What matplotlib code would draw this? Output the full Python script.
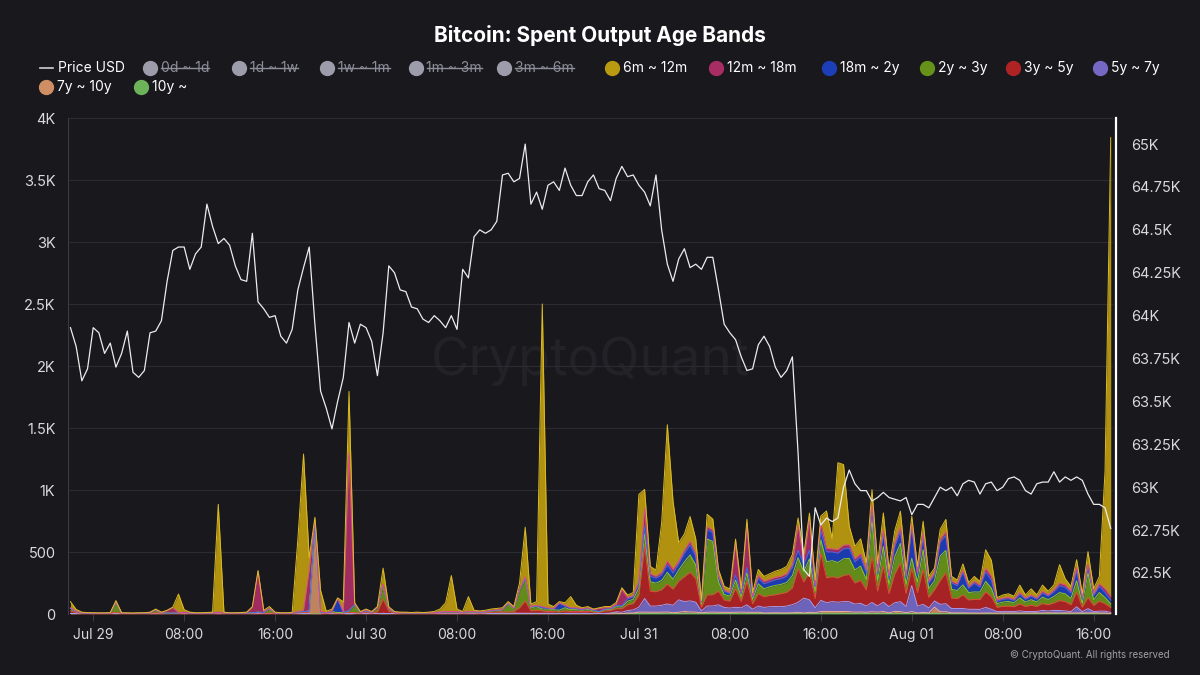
"""
Bitcoin: Spent Output Age Bands - dark CryptoQuant style chart
"""

import matplotlib
matplotlib.use('Agg')
import matplotlib.pyplot as plt
from matplotlib.lines import Line2D
import numpy as np
import pandas as pd

plt.rcParams['font.family'] = ['Inter', 'DejaVu Sans']

# 30-minute samples, Jul 28 22:00 -> Aug 01 17:30
times = pd.date_range('2024-07-28 22:00', periods=184, freq='30min')

# Price USD (in thousands)
price_usd_k = [
    63.93, 63.82, 63.62, 63.69, 63.93, 63.90, 63.78, 63.84, 63.70, 63.78,
    63.91, 63.67, 63.64, 63.68, 63.90, 63.91, 63.97, 64.20, 64.38, 64.40,
    64.40, 64.27, 64.36, 64.40, 64.65, 64.52, 64.42, 64.45, 64.41, 64.29,
    64.21, 64.20, 64.48, 64.08, 64.04, 63.99, 64.00, 63.88, 63.84, 63.92,
    64.15, 64.28, 64.40, 63.95, 63.56, 63.46, 63.34, 63.50, 63.64, 63.96,
    63.84, 63.95, 63.93, 63.85, 63.65, 63.90, 64.29, 64.25, 64.15, 64.14,
    64.05, 64.04, 63.98, 63.96, 64.00, 63.97, 63.93, 64.00, 63.92, 64.27,
    64.22, 64.46, 64.50, 64.48, 64.50, 64.55, 64.82, 64.83, 64.78, 64.80,
    65.00, 64.65, 64.72, 64.62, 64.76, 64.78, 64.73, 64.86, 64.76, 64.70,
    64.70, 64.78, 64.82, 64.74, 64.73, 64.67, 64.80, 64.87, 64.81, 64.82,
    64.76, 64.72, 64.64, 64.82, 64.50, 64.30, 64.20, 64.33, 64.39, 64.28,
    64.30, 64.27, 64.34, 64.34, 64.15, 63.95, 63.90, 63.86, 63.76, 63.68,
    63.69, 63.83, 63.88, 63.82, 63.70, 63.64, 63.68, 63.76, 63.20, 62.52,
    62.48, 62.88, 62.78, 62.82, 62.80, 62.82, 63.00, 63.10, 63.02, 62.98,
    62.98, 62.92, 62.94, 62.97, 62.94, 62.93, 62.92, 62.94, 62.84, 62.90,
    62.90, 62.88, 62.94, 63.00, 62.98, 63.00, 62.95, 63.02, 63.04, 63.03,
    62.96, 63.02, 63.03, 62.98, 63.00, 63.05, 63.06, 63.04, 62.98, 62.96,
    63.02, 63.03, 63.03, 63.09, 63.03, 63.06, 63.04, 63.06, 63.04, 62.96,
    62.90, 62.90, 62.88, 62.76,
]

band_6m_12m = [
    50, 15, 5, 3, 3, 2, 2, 3, 10, 3,
    2, 2, 3, 3, 4, 5, 4, 3, 3, 150,
    20, 5, 3, 3, 4, 5, 870, 5, 3, 3,
    4, 5, 5, 5, 10, 15, 5, 3, 3, 4,
    580, 1260, 100, 20, 170, 10, 15, 5, 80, 500,
    10, 5, 10, 5, 5, 130, 10, 5, 4, 4,
    3, 4, 3, 4, 6, 25, 70, 290, 20, 6,
    120, 10, 8, 10, 10, 12, 12, 10, 12, 50,
    400, 20, 30, 2440, 30, 15, 10, 20, 90, 20,
    10, 10, 5, 5, 10, 10, 15, 15, 20, 25,
    700, 150, 60, 50, 400, 1100, 550, 150, 130, 200,
    120, 10, 100, 90, 50, 30, 30, 40, 30, 40,
    25, 50, 40, 45, 50, 55, 60, 80, 60, 60,
    50, 40, 60, 300, 80, 700, 650, 150, 100, 120,
    60, 120, 60, 140, 50, 100, 130, 50, 60, 50,
    100, 40, 40, 80, 100, 40, 30, 50, 30, 40,
    30, 150, 130, 20, 25, 30, 25, 60, 25, 50,
    25, 50, 30, 40, 150, 50, 40, 60, 30, 100,
    40, 60, 950, 3700,
]

band_12m_18m = [
    5, 3, 2, 2, 1, 1, 1, 1, 3, 1,
    1, 1, 1, 1, 1, 2, 1, 20, 45, 2,
    2, 2, 1, 1, 1, 1, 2, 1, 1, 1,
    1, 2, 45, 330, 8, 3, 2, 1, 1, 1,
    5, 10, 330, 40, 5, 3, 5, 3, 5, 1270,
    5, 3, 5, 3, 3, 5, 3, 2, 2, 2,
    1, 2, 1, 2, 2, 2, 3, 3, 3, 2,
    3, 3, 3, 3, 3, 3, 3, 3, 3, 5,
    10, 5, 5, 10, 5, 5, 5, 5, 5, 5,
    5, 5, 5, 25, 10, 8, 10, 130, 10, 10,
    20, 150, 20, 15, 20, 30, 30, 20, 25, 30,
    20, 5, 20, 20, 15, 10, 10, 250, 10, 350,
    10, 20, 20, 20, 20, 20, 20, 25, 200, 25,
    250, 15, 60, 30, 25, 30, 30, 30, 25, 25,
    20, 30, 20, 30, 20, 30, 30, 20, 30, 20,
    30, 15, 15, 25, 30, 15, 15, 20, 15, 15,
    15, 30, 30, 10, 10, 10, 10, 15, 10, 10,
    10, 15, 10, 15, 20, 20, 15, 30, 15, 20,
    15, 20, 30, 30,
]

band_18m_2y = [
    0, 0, 0, 0, 0, 0, 0, 0, 0, 0,
    0, 0, 0, 0, 0, 0, 0, 0, 0, 0,
    0, 0, 0, 0, 0, 0, 0, 0, 0, 0,
    0, 0, 0, 0, 0, 0, 0, 0, 0, 0,
    0, 0, 0, 0, 0, 0, 0, 110, 0, 0,
    0, 0, 0, 0, 0, 5, 2, 0, 0, 0,
    0, 0, 0, 0, 0, 0, 0, 0, 0, 0,
    3, 2, 2, 2, 3, 3, 3, 3, 3, 5,
    5, 5, 5, 10, 5, 5, 55, 15, 10, 10,
    5, 8, 5, 3, 5, 5, 10, 10, 20, 20,
    35, 60, 45, 40, 45, 60, 50, 50, 70, 80,
    70, 15, 80, 70, 35, 25, 20, 40, 25, 40,
    20, 45, 40, 40, 45, 45, 50, 65, 60, 55,
    70, 35, 70, 80, 70, 75, 80, 80, 65, 75,
    55, 90, 55, 100, 50, 80, 100, 50, 250, 55,
    100, 45, 45, 110, 120, 50, 40, 100, 35, 70,
    40, 75, 65, 18, 22, 22, 18, 28, 22, 28,
    22, 32, 28, 38, 55, 52, 42, 80, 30, 50,
    35, 50, 40, 30,
]

band_2y_3y = [
    20, 8, 3, 2, 2, 2, 2, 3, 80, 2,
    2, 2, 2, 2, 4, 25, 4, 3, 3, 4,
    5, 3, 2, 2, 3, 4, 5, 4, 2, 2,
    3, 4, 4, 5, 6, 35, 4, 2, 2, 3,
    6, 8, 10, 10, 8, 4, 8, 5, 5, 10,
    65, 5, 10, 5, 35, 110, 20, 5, 4, 4,
    3, 4, 3, 4, 5, 5, 8, 8, 8, 5,
    6, 6, 5, 6, 10, 12, 14, 70, 22, 140,
    180, 25, 30, 15, 20, 15, 15, 25, 15, 15,
    10, 15, 10, 5, 10, 10, 15, 15, 30, 35,
    60, 100, 75, 70, 75, 95, 80, 90, 120, 140,
    110, 25, 450, 430, 75, 45, 40, 70, 40, 70,
    35, 80, 65, 70, 75, 75, 80, 100, 90, 85,
    110, 60, 110, 130, 130, 125, 135, 130, 105, 115,
    85, 300, 85, 160, 75, 140, 160, 75, 80, 85,
    160, 70, 75, 200, 180, 70, 65, 80, 60, 60,
    60, 85, 70, 30, 35, 38, 32, 50, 36, 45,
    36, 52, 42, 52, 65, 62, 52, 90, 35, 200,
    45, 70, 50, 30,
]

band_3y_5y = [
    20, 8, 3, 2, 2, 2, 2, 2, 12, 2,
    2, 1, 2, 2, 3, 5, 3, 2, 2, 3,
    5, 3, 2, 2, 2, 3, 5, 3, 2, 2,
    2, 2, 3, 8, 4, 5, 2, 2, 2, 2,
    6, 8, 10, 10, 5, 3, 8, 5, 5, 10,
    8, 5, 12, 5, 15, 115, 20, 5, 3, 3,
    3, 3, 3, 3, 5, 5, 6, 6, 6, 5,
    5, 6, 5, 6, 10, 10, 12, 10, 14, 45,
    100, 20, 25, 20, 15, 15, 12, 20, 15, 15,
    15, 17, 12, 10, 20, 20, 25, 28, 45, 50,
    95, 420, 120, 115, 125, 160, 130, 150, 200, 230,
    190, 30, 90, 90, 110, 60, 55, 150, 50, 190,
    45, 100, 85, 90, 95, 105, 110, 135, 270, 130,
    220, 75, 380, 200, 200, 195, 210, 220, 170, 185,
    130, 370, 120, 290, 105, 230, 310, 105, 140, 110,
    280, 85, 90, 190, 250, 85, 80, 110, 75, 80,
    80, 125, 100, 35, 40, 42, 38, 55, 40, 50,
    40, 55, 50, 60, 80, 75, 55, 120, 35, 90,
    50, 80, 60, 40,
]

band_5y_7y = [0] * 90 + [
    0, 0, 0, 0, 2, 2, 10, 12, 20, 25,
    40, 110, 50, 50, 55, 65, 60, 100, 80, 90,
    80, 15, 50, 50, 60, 40, 35, 40, 35, 60,
    25, 50, 45, 50, 50, 50, 55, 65, 80, 120,
    100, 40, 90, 70, 80, 75, 80, 80, 65, 70,
    50, 75, 50, 75, 50, 70, 80, 50, 210, 55,
    65, 40, 50, 60, 65, 35, 35, 35, 30, 30,
    30, 45, 30, 12, 13, 13, 12, 17, 12, 12,
    12, 21, 15, 20, 20, 16, 11, 50, 10, 35,
    10, 15, 15, 10,
]

band_7y_10y = [
    5, 3, 2, 2, 2, 2, 2, 2, 3, 2,
    2, 2, 2, 2, 3, 3, 3, 2, 2, 2,
    3, 2, 2, 2, 2, 2, 3, 2, 2, 2,
    2, 2, 3, 2, 2, 2, 2, 2, 2, 2,
    3, 4, 3, 700, 3, 2, 3, 2, 3, 5,
    2, 2, 3, 2, 2, 5, 3, 3, 2, 2,
    2, 2, 2, 2, 2, 3, 3, 3, 3, 2,
    3, 3, 2, 3, 4, 5, 6, 4, 6, 5,
    5, 5, 5, 5, 5, 5, 3, 5, 5, 5,
    5, 5, 3, 2, 3, 5, 5, 0, 5, 5,
    10, 10, 10, 10, 10, 10, 5, 10, 15, 10,
    10, 5, 10, 10, 10, 10, 10, 10, 10, 10,
    10, 10, 5, 5, 5, 5, 5, 5, 10, 5,
    10, 5, 15, 15, 15, 15, 15, 15, 10, 10,
    10, 15, 10, 15, 5, 15, 15, 5, 15, 5,
    10, 5, 50, 15, 15, 5, 5, 5, 5, 5,
    5, 5, 5, 5, 5, 5, 5, 5, 5, 5,
    5, 5, 5, 5, 5, 5, 5, 5, 5, 5,
    5, 5, 5, 0,
]

band_10y = [0] * 96 + [
    3, 2, 3, 3, 5, 5, 4, 4, 5, 6,
    5, 4, 5, 6, 5, 5, 4, 5, 4, 3,
    3, 4, 5, 4, 3, 4, 3, 4, 5, 4,
    4, 5, 4, 3, 4, 5, 5, 6, 5, 5,
    5, 4, 5, 6, 4, 3, 5, 5, 4, 6,
    4, 5, 4, 3, 3, 4, 5, 3, 3, 4,
    4, 4, 3, 3, 2, 3, 3, 2, 3, 3,
    3, 3, 3, 3, 4, 3, 4, 4, 3, 4,
    3, 3, 4, 3, 4, 3, 3, 2,
]

hidden_bands = ['0d ~ 1d', '1d ~ 1w', '1w ~ 1m', '1m ~ 3m', '3m ~ 6m']

# bottom -> top of the stack: (label, values, fill, edge line)
bands = [
    ('10y ~', band_10y, '#5f9e4f', '#7cc46a'),
    ('7y ~ 10y', band_7y_10y, '#c98a62', '#f0aa9a'),
    ('5y ~ 7y', band_5y_7y, '#7468c4', '#a59cf0'),
    ('3y ~ 5y', band_3y_5y, '#b02325', '#e8483a'),
    ('2y ~ 3y', band_2y_3y, '#67921a', '#8fc42a'),
    ('18m ~ 2y', band_18m_2y, '#1c3fb8', '#3d6af0'),
    ('12m ~ 18m', band_12m_18m, '#a82d64', '#e04a8c'),
    ('6m ~ 12m', band_6m_12m, '#b99a10', '#dcbc24'),
]

for name, vals, _, _ in bands:
    assert len(vals) == len(times), (name, len(vals))
assert len(price_usd_k) == len(times)

BG = '#18181d'
TXT = '#d9d9de'

fig = plt.figure(figsize=(12, 6.75), dpi=100, facecolor=BG)
ax = fig.add_axes([68 / 1200, 61 / 675, 1045 / 1200, 496 / 675])
ax.set_facecolor(BG)

# watermark
ax.text(0.5, 0.51, 'CryptoQuant', transform=ax.transAxes, fontsize=38,
        color='#222228', ha='center', va='center', zorder=0)

# stacked areas
stack = np.array([b[1] for b in bands], dtype=float)
tops = np.cumsum(stack, axis=0)
base = np.zeros(len(times))
for (name, vals, fill, edge), top in zip(bands, tops):
    ax.fill_between(times, base, top, color=fill, alpha=0.95, lw=0, zorder=2)
    ax.plot(times, top, color=edge, lw=0.7, zorder=3)
    base = top

ax.set_xlim(times[0] - pd.Timedelta(minutes=13), times[-1] + pd.Timedelta(minutes=12))
ax.set_ylim(0, 4000)
left_ticks = [0, 500, 1000, 1500, 2000, 2500, 3000, 3500, 4000]
left_labels = ['0', '500', '1K', '1.5K', '2K', '2.5K', '3K', '3.5K', '4K']
ax.set_yticks(left_ticks)
ax.set_yticklabels(left_labels)

tick_times = pd.date_range('2024-07-29', periods=12, freq='8h')
tick_labels = ['Jul 29', '08:00', '16:00', 'Jul 30', '08:00', '16:00',
               'Jul 31', '08:00', '16:00', 'Aug 01', '08:00', '16:00']
ax.set_xticks(tick_times)
ax.set_xticklabels(tick_labels)

ax.yaxis.grid(True, color='#2b2b33', lw=0.8)
ax.set_axisbelow(True)
ax.tick_params(axis='y', length=0, pad=9, labelsize=10.5, labelcolor=TXT)
ax.tick_params(axis='x', length=5, width=0.8, color='#3a3a44', pad=5,
               labelsize=10, labelcolor=TXT)
for side in ['top', 'right', 'bottom']:
    ax.spines[side].set_visible(False)
ax.spines['left'].set_color('#3a3a44')

# price on the right axis
ax2 = ax.twinx()
ax2.plot(times, price_usd_k, color='#ececec', lw=0.9, zorder=5)
ax2.set_ylim(62.261, 65.152)
right_ticks = [62.5, 62.75, 63.0, 63.25, 63.5, 63.75, 64.0, 64.25, 64.5, 64.75, 65.0]
ax2.set_yticks(right_ticks)
ax2.set_yticklabels([f'{v:g}K' for v in right_ticks])
ax2.tick_params(axis='y', length=0, pad=11, labelsize=10.5, labelcolor=TXT)
for side in ['top', 'left', 'bottom']:
    ax2.spines[side].set_visible(False)
ax2.spines['right'].set_color('white')
ax2.spines['right'].set_linewidth(1.6)
ax2.spines['right'].set_position(('outward', 2))

# title
fig.text(0.5, 1 - 35 / 675, 'Bitcoin: Spent Output Age Bands', ha='center',
         va='center', fontsize=15, fontweight='bold', color='white')

# legend, drawn by hand
W, H = 1200, 675


def fx(px):
    return px / W


def fy(py):
    return 1 - py / H


row1, row2 = 68, 87
fig.add_artist(Line2D([fx(40), fx(53)], [fy(row1), fy(row1)], color='#d0d0d0',
                      lw=1.2, transform=fig.transFigure))
fig.text(fx(58), fy(row1), 'Price USD', ha='left', va='center', fontsize=10, color='white')

legend_items = [(name, '#9c9caa', True, 150 + 88.5 * k, row1) for k, name in enumerate(hidden_bands)]
shown = [b for b in bands[::-1]]
shown_x = [612, 716, 829, 927, 1013, 1100]
for (name, vals, fill, edge), x in zip(shown[:6], shown_x):
    legend_items.append((name, fill, False, x, row1))
legend_items.append((shown[6][0], '#cf8e63', False, 46, row2))
legend_items.append((shown[7][0], '#6db35a', False, 141, row2))

struck = []
for name, color, hidden, x, y in legend_items:
    fig.add_artist(Line2D([fx(x)], [fy(y)], marker='o', ms=10, color=color, lw=0,
                          transform=fig.transFigure))
    t = fig.text(fx(x + 11), fy(y), name, ha='left', va='center', fontsize=10,
                 color='#8e8e9a' if hidden else 'white')
    if hidden:
        struck.append(t)

fig.canvas.draw()
renderer = fig.canvas.get_renderer()
for t in struck:
    bb = t.get_window_extent(renderer)
    ymid = (bb.y0 + bb.y1) / 2 + 0.5
    fig.add_artist(Line2D([bb.x0 / W, bb.x1 / W], [ymid / H, ymid / H], color='#8e8e9a',
                          lw=1.0, transform=fig.transFigure))

fig.text(fx(1170), fy(655), '\u00a9 CryptoQuant. All rights reserved', ha='right',
         va='center', fontsize=7, color='#a0a0a8')

fig.savefig('out.png', dpi=100, facecolor=BG)
plt.close(fig)
